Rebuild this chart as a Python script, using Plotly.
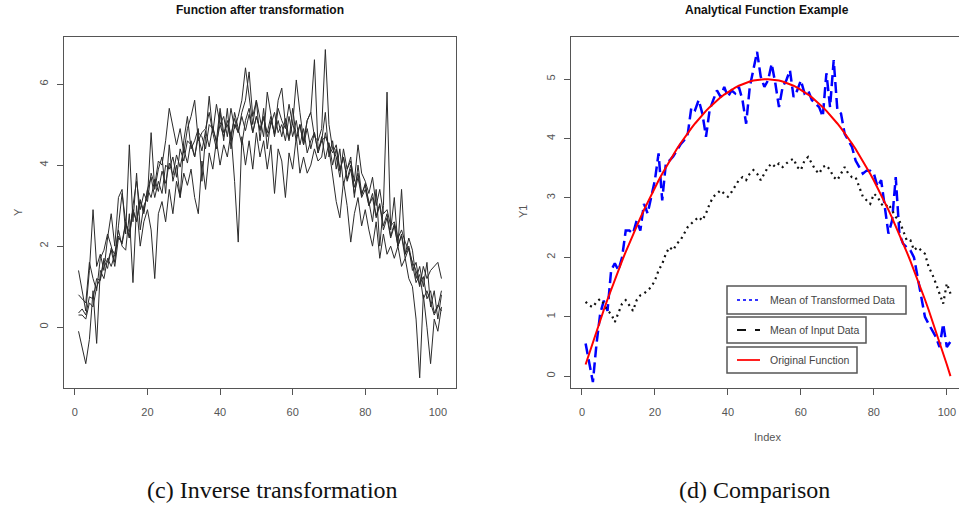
import plotly.graph_objects as go

# ---------------- data ----------------
# Left panel: several transformed samples (index 1..101)
s1 = [0.35,0.45,0.30,0.75,0.70,1.20,1.15,1.65,1.45,1.95,
      1.80,2.25,2.05,2.55,2.35,2.90,2.60,3.15,2.85,3.40,
      3.20,3.65,3.35,3.85,3.55,4.05,3.75,4.25,3.95,4.40,
      4.05,4.60,4.20,4.70,4.35,4.85,4.45,4.95,4.55,5.00,
      4.70,5.10,4.75,5.15,4.80,5.20,4.85,5.25,4.80,5.20,
      4.85,5.15,4.80,5.20,4.75,5.10,4.70,5.15,4.65,5.05,
      4.60,5.00,4.50,4.90,4.40,4.80,4.30,4.70,4.15,4.55,
      4.00,4.40,3.85,4.20,3.65,4.00,3.45,3.80,3.25,3.55,
      3.00,3.30,2.75,3.05,2.50,2.80,2.25,2.55,2.00,2.25,
      1.70,1.95,1.40,1.60,1.05,1.25,0.70,0.90,0.35,0.55,
      0.40]
s2 = [0.80,0.70,0.60,1.60,1.20,0.90,1.70,1.90,2.30,2.00,
      1.60,2.50,3.30,2.60,2.20,3.00,3.60,2.90,3.30,3.10,
      3.80,3.50,4.10,4.00,4.60,5.40,4.90,4.50,4.90,4.30,
      4.90,5.20,5.60,4.60,4.80,4.90,5.30,4.80,5.50,5.00,
      5.20,4.70,5.40,4.90,5.20,5.60,6.40,5.70,5.00,5.60,
      5.10,4.70,5.80,5.20,4.70,5.40,5.10,4.90,5.50,5.00,
      6.10,5.30,4.60,5.10,5.30,4.70,4.60,4.90,6.85,5.00,
      4.40,4.20,3.70,4.40,3.90,4.10,3.60,4.50,3.80,3.60,
      3.30,3.70,3.00,3.40,2.80,2.90,2.50,2.60,2.20,2.40,
      2.10,1.90,1.60,1.40,1.00,1.50,1.20,1.40,1.50,1.60,
      1.20]
s3 = [1.40,0.90,0.40,1.40,2.90,1.50,1.80,1.40,2.20,2.80,
      2.00,3.20,3.40,2.30,4.50,2.60,3.80,2.40,3.00,3.20,
      4.80,3.40,3.90,4.20,3.30,4.50,3.60,4.00,3.20,4.60,
      5.20,4.40,4.60,4.90,3.60,4.70,5.70,4.80,4.40,5.30,
      4.60,5.40,4.40,5.00,4.80,5.30,5.60,6.30,5.20,5.60,
      4.60,5.40,4.40,5.10,4.80,5.60,5.90,5.00,4.60,5.40,
      4.70,5.00,4.50,5.10,5.30,6.60,4.40,4.60,5.30,4.20,
      4.60,3.90,4.40,3.50,3.90,4.20,3.20,4.00,3.30,3.50,
      3.10,2.60,3.40,2.00,3.00,5.80,2.40,3.20,2.00,3.40,
      1.80,2.20,1.90,1.20,1.50,1.00,1.60,0.50,0.90,0.20,
      0.80]
s4 = [-0.10,-0.50,-0.90,-0.30,0.90,-0.40,1.40,1.20,1.70,1.50,
      1.80,2.40,2.00,1.90,2.80,1.10,3.00,2.00,2.60,2.90,
      2.40,1.20,2.80,3.10,2.60,3.40,2.80,3.60,3.20,3.80,
      3.50,3.90,3.20,2.80,4.10,3.40,4.30,3.90,4.60,4.00,
      4.50,4.20,4.80,3.60,2.10,4.70,4.00,4.60,3.90,4.80,
      4.20,4.60,3.90,4.50,3.30,4.40,4.10,3.20,4.30,3.90,
      4.70,3.80,4.20,3.80,4.00,4.40,4.10,4.20,4.80,4.40,
      3.80,3.10,2.70,3.60,3.00,2.10,2.80,3.20,2.50,2.90,
      2.40,2.00,2.60,1.70,2.30,1.80,2.00,1.70,2.00,1.50,
      1.70,1.20,1.00,0.20,-1.25,0.80,0.00,-0.90,0.20,-0.10,
      0.50]
s5 = [0.30,0.30,0.20,0.60,0.50,1.00,1.20,1.70,1.60,1.90,
      1.50,2.20,2.10,2.60,2.20,2.90,2.60,3.10,2.80,3.40,
      3.70,3.20,3.60,3.30,4.00,3.90,4.20,3.70,4.40,4.10,
      4.60,4.50,4.20,4.80,4.70,4.40,5.00,4.90,4.60,5.40,
      4.80,5.00,4.60,5.30,4.90,4.50,5.10,5.40,4.80,5.20,
      4.90,5.20,4.70,5.00,5.30,4.80,5.00,4.60,5.20,4.70,
      5.10,4.50,4.90,4.30,4.60,4.80,4.30,4.60,4.70,4.50,
      4.30,4.50,3.90,4.20,3.60,3.90,3.30,3.70,3.20,3.40,
      3.00,3.20,2.70,3.00,2.40,2.70,2.20,2.50,2.00,2.30,
      1.80,2.00,1.50,1.10,1.30,0.70,0.90,0.60,0.30,0.50,
      0.90]
samples = [s1, s2, s3, s4, s5]

# Right panel
mean_input = [0.55,0.20,-0.10,0.55,1.05,1.27,1.10,1.78,1.90,1.78,
              2.00,2.45,2.45,2.40,2.62,2.45,2.90,2.74,3.00,3.30,
              3.75,2.96,3.58,3.63,3.70,3.80,3.90,3.97,4.08,4.53,
              4.48,4.65,4.42,4.03,4.48,4.65,4.81,4.70,4.87,4.70,
              4.81,4.76,4.87,4.65,4.25,4.87,5.15,5.46,5.04,4.87,
              4.98,5.26,4.93,4.53,4.87,4.98,5.15,4.70,4.81,4.98,
              4.76,4.81,4.65,4.59,4.53,4.37,5.10,4.53,5.32,4.48,
              4.42,4.08,3.97,3.86,3.63,3.52,3.41,3.46,3.46,3.41,
              3.19,3.30,2.85,2.40,2.62,3.35,2.40,2.23,2.17,2.12,
              2.00,1.67,1.33,1.00,0.88,0.77,0.66,0.49,0.88,0.49,
              0.58]
mean_transformed = [1.25,1.19,1.16,1.25,1.30,1.22,1.10,1.05,0.91,1.08,
                    1.22,1.28,1.19,1.10,1.28,1.36,1.39,1.44,1.50,1.61,
                    1.78,1.89,2.06,2.17,2.12,2.23,2.29,2.40,2.51,2.57,
                    2.62,2.68,2.62,2.74,2.90,3.02,3.07,3.13,3.07,3.02,
                    3.10,3.19,3.30,3.35,3.30,3.41,3.47,3.41,3.30,3.41,
                    3.52,3.58,3.52,3.58,3.52,3.58,3.63,3.66,3.52,3.47,
                    3.63,3.69,3.58,3.47,3.41,3.52,3.55,3.47,3.35,3.30,
                    3.41,3.52,3.41,3.35,3.35,3.19,3.02,2.96,2.90,3.07,
                    3.02,2.90,2.85,2.90,2.79,2.68,2.62,2.45,2.29,2.29,
                    2.12,2.17,2.12,2.06,1.84,1.72,1.56,1.39,1.22,1.56,
                    1.39]
original = [0.196,0.388,0.576,0.761,0.941,1.118,1.290,1.459,1.623,1.784,
            1.941,2.094,2.243,2.388,2.529,2.666,2.800,2.929,3.055,3.176,
            3.294,3.408,3.517,3.623,3.725,3.823,3.917,4.007,4.094,4.176,
            4.254,4.329,4.400,4.466,4.529,4.588,4.643,4.694,4.741,4.784,
            4.823,4.858,4.890,4.917,4.941,4.960,4.976,4.988,4.996,5.000,
            5.000,4.996,4.988,4.976,4.960,4.941,4.917,4.890,4.858,4.823,
            4.784,4.741,4.694,4.643,4.588,4.529,4.466,4.400,4.329,4.254,
            4.176,4.094,4.007,3.917,3.823,3.725,3.623,3.517,3.408,3.294,
            3.176,3.055,2.929,2.800,2.666,2.529,2.388,2.243,2.094,1.941,
            1.784,1.623,1.459,1.290,1.118,0.941,0.761,0.576,0.388,0.196,
            0.000]

x_ticks = [0, 20, 40, 60, 80, 100]
y_ticks_left = [0, 2, 4, 6]
y_ticks_right = [0, 1, 2, 3, 4, 5]
legend_labels = ["Mean of Transformed Data", "Mean of Input Data", "Original Function"]
captions = ["(c) Inverse transformation", "(d) Comparison"]

# ---------------- figure ----------------
W, H = 959, 519
def px(x):
    return x / W
def py(y):
    return 1 - y / H

fig = go.Figure()

for s in samples:
    fig.add_trace(go.Scatter(x=list(range(1, len(s) + 1)), y=s, mode="lines",
                             line=dict(color="#2b2b2b", width=1),
                             xaxis="x", yaxis="y", showlegend=False, hoverinfo="skip"))

fig.add_trace(go.Scatter(x=list(range(1, len(mean_input) + 1)), y=mean_input, mode="lines",
                         line=dict(color="#0000FF", width=2.5, dash="11px,5px"),
                         xaxis="x2", yaxis="y2", showlegend=False, hoverinfo="skip"))
fig.add_trace(go.Scatter(x=list(range(1, len(mean_transformed) + 1)), y=mean_transformed, mode="lines",
                         line=dict(color="#111111", width=2.2, dash="2px,4px"),
                         xaxis="x2", yaxis="y2", showlegend=False, hoverinfo="skip"))
fig.add_trace(go.Scatter(x=list(range(1, len(original) + 1)), y=original, mode="lines",
                         line=dict(color="#FF0000", width=2),
                         xaxis="x2", yaxis="y2", showlegend=False, hoverinfo="skip"))

tickfont = dict(family="Liberation Sans, Arial", size=11, color="#555555")
common = dict(showline=True, mirror=True, linecolor="#555555", linewidth=1,
              ticks="outside", ticklen=6, tickcolor="#555555", tickfont=tickfont,
              showgrid=False, zeroline=False)

ydom = [py(388), py(37)]
fig.update_layout(
    width=W, height=H, margin=dict(l=0, r=0, t=0, b=0),
    paper_bgcolor="white", plot_bgcolor="white", showlegend=False,
    xaxis=dict(domain=[px(64), px(456)], range=[-3, 105], tickvals=x_ticks,
               anchor="y", ticklabelstandoff=8, **common),
    yaxis=dict(domain=ydom, range=[-1.5, 7.16], tickvals=y_ticks_left, tickangle=-90,
               anchor="x", ticklabelstandoff=5, **common),
    xaxis2=dict(domain=[px(571), px(958.5)], range=[-3, 103.2], tickvals=x_ticks,
                anchor="y2", ticklabelstandoff=8, **common),
    yaxis2=dict(domain=ydom, range=[-0.2, 5.71], tickvals=y_ticks_right, tickangle=-90,
                anchor="x2", ticklabelstandoff=5, **common),
)

ann = []
titlefont = dict(family="Liberation Sans, Arial", size=12, color="#111111")
ann.append(dict(x=px(260), y=py(10), text="<b>Function after transformation</b>", font=titlefont))
ann.append(dict(x=px(767), y=py(10), text="<b>Analytical Function Example</b>", font=titlefont))
labfont = dict(family="Liberation Sans, Arial", size=11, color="#555555")
ann.append(dict(x=px(18), y=py(212), text="Y", textangle=-90, font=labfont))
ann.append(dict(x=px(523), y=py(212), text="Y1", textangle=-90, font=labfont))
ann.append(dict(x=px(767), y=py(437), text="Index", font=labfont))
capfont = dict(family="Liberation Serif, Times New Roman, serif", size=24, color="#111111")
ann.append(dict(x=px(272), y=py(490), text=captions[0], font=capfont))
ann.append(dict(x=px(754), y=py(490), text=captions[1], font=capfont))

# legend boxes
boxes = [(727, 906, 286, 314), (727, 866, 317, 343), (727, 857, 347, 373)]
styles = [dict(color="#3333FF", width=2, dash="dot"),
          dict(color="#111111", width=2, dash="dash"),
          dict(color="#FF2020", width=2)]
shapes = []
legfont = dict(family="Liberation Sans, Arial", size=10.5, color="#444444")
for (x0, x1, y0, y1), st, lab in zip(boxes, styles, legend_labels):
    shapes.append(dict(type="rect", xref="paper", yref="paper",
                       x0=px(x0), x1=px(x1), y0=py(y1), y1=py(y0),
                       line=dict(color="#555555", width=1.5), fillcolor="white", layer="above"))
    yc = (y0 + y1) / 2
    shapes.append(dict(type="line", xref="paper", yref="paper",
                       x0=px(737), x1=px(760), y0=py(yc), y1=py(yc), line=st, layer="above"))
    ann.append(dict(x=px(768), y=py(yc), text=lab, xanchor="left", font=legfont))

for a in ann:
    a.setdefault("xanchor", "center")
    a.update(xref="paper", yref="paper", yanchor="middle", showarrow=False)

fig.update_layout(annotations=ann, shapes=shapes)
fig.write_html("out.html")
